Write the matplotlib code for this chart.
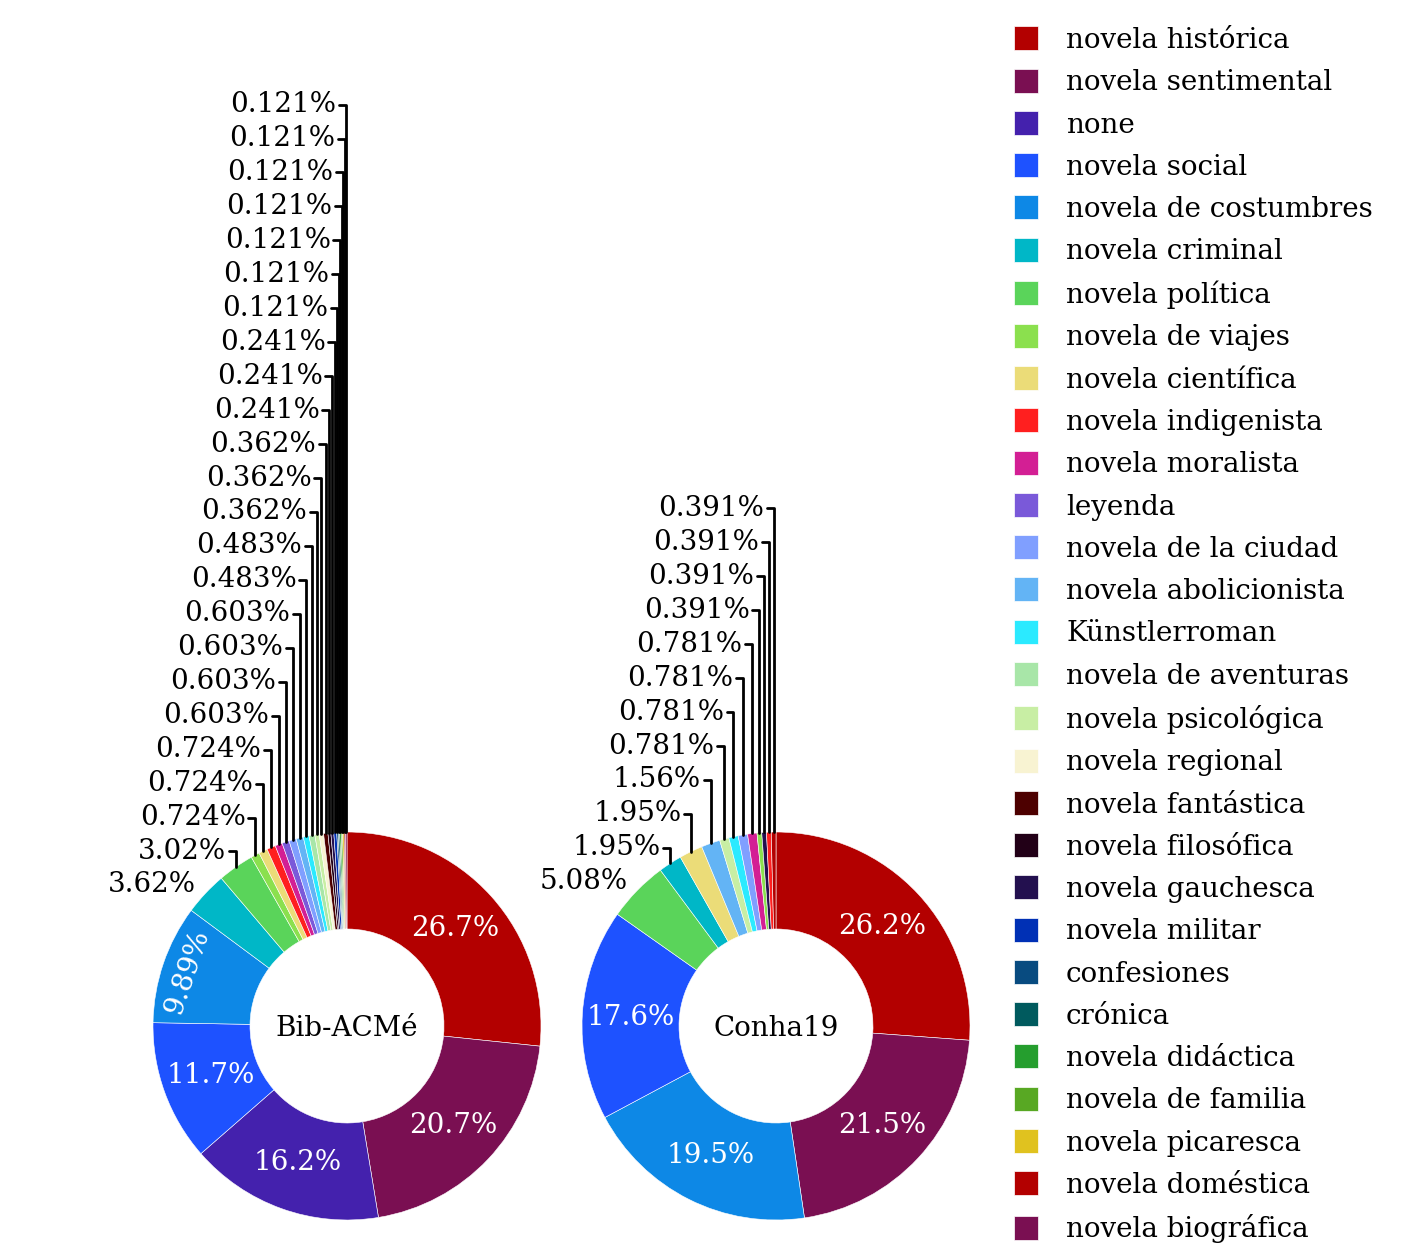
import numpy as np
import matplotlib
matplotlib.use("Agg")
import matplotlib.pyplot as plt
from matplotlib.lines import Line2D

plt.rcParams['font.family'] = ['DejaVu Serif']

# ---------------- data ----------------
categories = ["novela histórica", "novela sentimental", "none", "novela social",
              "novela de costumbres", "novela criminal", "novela política",
              "novela de viajes", "novela científica", "novela indigenista",
              "novela moralista", "leyenda", "novela de la ciudad",
              "novela abolicionista", "Künstlerroman", "novela de aventuras",
              "novela psicológica", "novela regional", "novela fantástica",
              "novela filosófica", "novela gauchesca", "novela militar",
              "confesiones", "crónica", "novela didáctica", "novela de familia",
              "novela picaresca", "novela doméstica", "novela biográfica"]

colors = ["#b30000", "#7a0f52", "#4421ad", "#1e52ff", "#0d88e6", "#00b7c7",
          "#5ad45a", "#8be04e", "#ebdc78", "#ff1f1f", "#d31f94", "#7a59d9",
          "#809fff", "#63b4f5", "#2beaff", "#a8e6a8", "#c8eea4", "#f8f3d2",
          "#4d0000", "#220017", "#23104f", "#0030b5", "#084b80", "#005a5e",
          "#259e2e", "#58a823", "#e0c21f", "#b30000", "#7a0f52"]

# Bib-ACMé counts (pie order = legend order)
bib_counts = [221, 172, 134, 97, 82, 30, 25, 6, 6, 6, 5, 5, 5, 5, 4, 4, 3, 3, 3,
              2, 2, 2, 1, 1, 1, 1, 1, 1, 1]

# Conha19 (pie order as drawn)
conha_cats = ["novela histórica", "novela sentimental", "novela de costumbres",
              "novela social", "novela política", "novela criminal",
              "novela científica", "novela abolicionista", "novela psicológica",
              "Künstlerroman", "novela de la ciudad", "novela moralista",
              "novela de viajes", "novela gauchesca", "novela indigenista",
              "novela doméstica"]
conha_counts = [67, 55, 50, 45, 13, 5, 5, 4, 2, 2, 2, 2, 1, 1, 1, 1]

titles = ["Bib-ACMé", "Conha19"]

# ---------------- figure ----------------
W, H = 1406, 1258
fig = plt.figure(figsize=(W / 100, H / 100), dpi=100)

R_PX = 194
FS = 20


def make_ax(cx, cy_top):
    cy = H - cy_top
    return fig.add_axes([(cx - R_PX) / W, (cy - R_PX) / H, 2 * R_PX / W, 2 * R_PX / H])


def fmt(p):
    return f"{p:.3g}%"


def draw(ax, counts, cols, title):
    counts = np.asarray(counts, dtype=float)
    pcts = counts / counts.sum() * 100
    wedges, _ = ax.pie(counts, colors=cols, startangle=90, counterclock=False,
                       radius=1.0,
                       wedgeprops=dict(width=0.5, edgecolor='white', linewidth=0.4))
    ax.set_xlim(-1, 1)
    ax.set_ylim(-1, 1)
    ax.axis('off')
    ax.text(0, -0.015, title, ha='center', va='center', fontsize=FS, color='black')

    prev_y = -np.inf
    for w, p in zip(wedges, pcts):
        ang = np.deg2rad((w.theta1 + w.theta2) / 2)
        c, s = np.cos(ang), np.sin(ang)
        if p >= 10:
            ax.text(0.75 * c, 0.75 * s, fmt(p), ha='center', va='center',
                    fontsize=FS, color='white')
        elif p >= 9:
            rot = np.rad2deg(ang) - 90
            ax.text(0.87 * c, 0.87 * s, fmt(p), ha='center', va='center',
                    fontsize=FS, color='white', rotation=rot)
        elif p >= 3.5:
            ax.text(1.07 * c, 1.07 * s, fmt(p), ha='right' if c < 0 else 'left',
                    va='center', fontsize=FS, color='black', clip_on=False)
        else:
            y = max(s + 0.08, prev_y + 0.175)
            prev_y = y
            ax.annotate(fmt(p), xy=(c, s), xytext=(c - 0.05, y),
                        ha='right', va='center', fontsize=FS, color='black',
                        annotation_clip=False,
                        arrowprops=dict(arrowstyle='-', color='black', lw=2.0,
                                        shrinkA=0, shrinkB=0,
                                        connectionstyle="angle,angleA=0,angleB=90,rad=0"))


cmap = dict(zip(categories, colors))

ax1 = make_ax(347, 1026)
draw(ax1, bib_counts, colors, titles[0])

ax2 = make_ax(776, 1026)
draw(ax2, conha_counts, [cmap[c] for c in conha_cats], titles[1])

handles = [Line2D([], [], linestyle='none', marker='s', markersize=17,
                  markerfacecolor=col, markeredgecolor='white', markeredgewidth=0.5)
           for col in colors]
fig.legend(handles, categories, loc='upper left',
           bbox_to_anchor=(998 / W, 1 - 27 / H), frameon=False, fontsize=FS,
           handlelength=2.0, handletextpad=0.45, labelspacing=0.55,
           borderpad=0, borderaxespad=0)

fig.savefig("out.png", dpi=100)
